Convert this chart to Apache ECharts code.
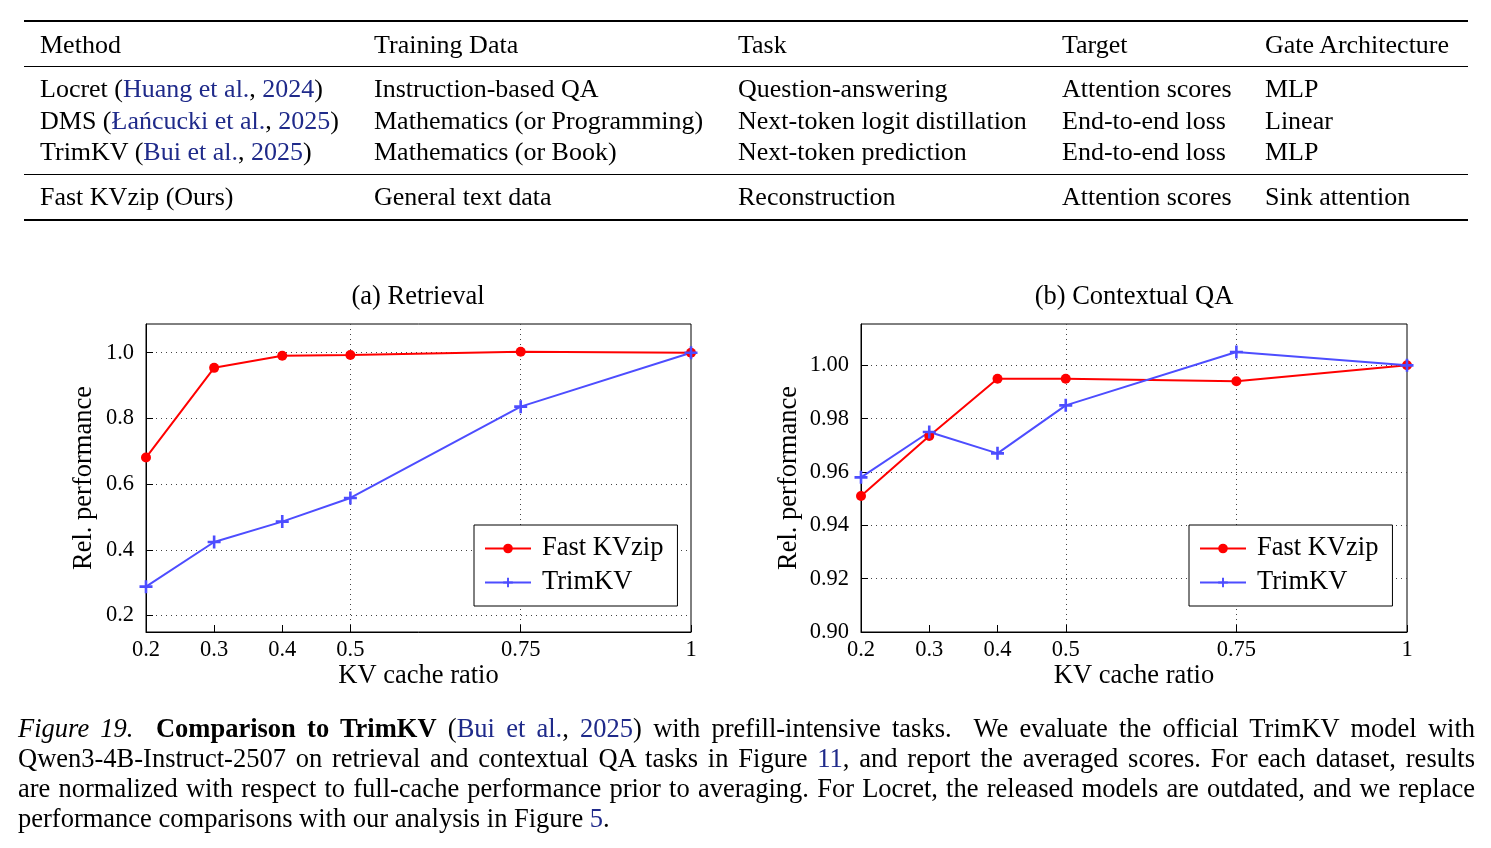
<!DOCTYPE html>
<html>
<head>
<meta charset="utf-8">
<script src="https://cdn.jsdelivr.net/npm/echarts@6.0.0/dist/echarts.min.js"></script>
<style>
  html, body { margin: 0; padding: 0; background: #fff; }
  body { width: 1491px; height: 848px; position: relative; overflow: hidden;
         font-family: "Liberation Serif", "Times New Roman", serif; color: #000; }
  #chart { position: absolute; left: 0; top: 0; width: 1491px; height: 848px; }
  .cell { position: absolute; font-size: 26px; line-height: 30px; white-space: nowrap; }
  .rule { position: absolute; left: 24px; width: 1444px; background: #000; }
  .cap { position: absolute; left: 18px; width: 1457px; font-size: 26.5px; line-height: 30px;
         text-align: justify; text-align-last: justify; white-space: nowrap; }
  .cap.last { text-align-last: left; }
  .cite { color: #1f2a8a; }
</style>
</head>
<body>
<div id="chart"></div>
<div id="table"></div>
<div id="caption"></div>
<script>
// ---- table data ----
var headers = ["Method", "Training Data", "Task", "Target", "Gate Architecture"];
var methods = ["Locret", "DMS", "TrimKV", "Fast KVzip (Ours)"];
var citeNames = ["Huang et al.", "Łańcucki et al.", "Bui et al.", ""];
var citeYears = ["2024", "2025", "2025", ""];
var trainData = ["Instruction-based QA", "Mathematics (or Programming)", "Mathematics (or Book)", "General text data"];
var tasks = ["Question-answering", "Next-token logit distillation", "Next-token prediction", "Reconstruction"];
var targets = ["Attention scores", "End-to-end loss", "End-to-end loss", "Attention scores"];
var gates = ["MLP", "Linear", "MLP", "Sink attention"];

// ---- chart data ----
var ratios = [0.2, 0.3, 0.4, 0.5, 0.75, 1];
var retrievalFast = [0.681, 0.954, 0.991, 0.993, 1.003, 1.0];
var retrievalTrim = [0.288, 0.424, 0.486, 0.558, 0.836, 1.0];
var qaFast = [0.951, 0.9735, 0.995, 0.995, 0.994, 1.0];
var qaTrim = [0.958, 0.975, 0.967, 0.985, 1.005, 1.0];
var retrievalTicks = [0.2, 0.4, 0.6, 0.8, 1.0];
var qaTicks = [0.90, 0.92, 0.94, 0.96, 0.98, 1.00];
var gridTicksX = [0.5, 0.75];

// ---- build table ----
var colX = [40, 374, 738, 1062, 1265];
var rowY = [89, 121, 152, 197];
var tableHtml = "";
function cell(x, yc, html) {
    return '<div class="cell" style="left:' + x + 'px;top:' + (yc - 15) + 'px">' + html + '</div>';
}
tableHtml += '<div class="rule" style="top:20px;height:2px"></div>';
tableHtml += '<div class="rule" style="top:66px;height:1px"></div>';
tableHtml += '<div class="rule" style="top:174px;height:1px"></div>';
tableHtml += '<div class="rule" style="top:219px;height:2px"></div>';
for (var h = 0; h < headers.length; h++) {
    tableHtml += cell(colX[h], 45, headers[h]);
}
for (var r = 0; r < methods.length; r++) {
    var m = methods[r];
    if (citeNames[r] !== "") {
        m += ' (<span class="cite">' + citeNames[r] + '</span>, <span class="cite">' + citeYears[r] + '</span>)';
    }
    tableHtml += cell(colX[0], rowY[r], m);
    tableHtml += cell(colX[1], rowY[r], trainData[r]);
    tableHtml += cell(colX[2], rowY[r], tasks[r]);
    tableHtml += cell(colX[3], rowY[r], targets[r]);
    tableHtml += cell(colX[4], rowY[r], gates[r]);
}
document.getElementById("table").innerHTML = tableHtml;

// ---- caption ----
var capLines = [
    '<i>Figure 19.</i>&nbsp; <b>Comparison to TrimKV</b> (<span class="cite">Bui et al.</span>, <span class="cite">2025</span>) with prefill-intensive tasks.&nbsp; We evaluate the official TrimKV model with',
    'Qwen3-4B-Instruct-2507 on retrieval and contextual QA tasks in Figure <span class="cite">11</span>, and report the averaged scores. For each dataset, results',
    'are normalized with respect to full-cache performance prior to averaging. For Locret, the released models are outdated, and we replace',
    'performance comparisons with our analysis in Figure <span class="cite">5</span>.'
];
var capY = [729, 759, 789, 819];
var capHtml = "";
for (var c = 0; c < capLines.length; c++) {
    capHtml += '<div class="cap' + (c === capLines.length - 1 ? ' last' : '') + '" style="top:' + (capY[c] - 16) + 'px">' + capLines[c] + '</div>';
}
document.getElementById("caption").innerHTML = capHtml;

// ---- charts ----
var font = "Liberation Serif";
var red = "#ff0000";
var blue = "#4d4dff";
var plus = "path://M-1.2,-6 h2.4 v4.8 h4.8 v2.4 h-4.8 v4.8 h-2.4 v-4.8 h-4.8 v-2.4 h4.8 z";

function pairs(xs, ys) {
    return xs.map(function (x, i) { return [x, ys[i]]; });
}

function mainX(gridIndex) {
    return {
        type: "value", gridIndex: gridIndex, min: 0.2, max: 1,
        name: "KV cache ratio", nameLocation: "middle", nameGap: 29,
        nameTextStyle: { fontFamily: font, fontSize: 26.5, color: "#000" },
        axisLine: { lineStyle: { color: "#000", width: 1 } },
        axisTick: { inside: true, length: 7, customValues: ratios, lineStyle: { color: "#000" } },
        axisLabel: {
            customValues: ratios, margin: 7, fontFamily: font, fontSize: 22.5, color: "#000",
            formatter: function (v) { return String(v); }
        },
        splitLine: { show: false }
    };
}
function gridX(gridIndex) {
    return {
        type: "value", gridIndex: gridIndex, min: 0.2, max: 1,
        axisLine: { show: false }, axisLabel: { show: false },
        axisTick: { show: false, customValues: gridTicksX },
        splitLine: { show: true, lineStyle: { color: "#444", type: [1, 4], width: 1 } }
    };
}
function mainY(gridIndex, min, max, ticks, digits, gap) {
    return {
        type: "value", gridIndex: gridIndex, min: min, max: max,
        name: "Rel. performance", nameLocation: "middle", nameGap: gap,
        nameTextStyle: { fontFamily: font, fontSize: 26.5, color: "#000" },
        axisLine: { show: true, lineStyle: { color: "#000", width: 1 } },
        axisTick: { show: true, inside: true, length: 7, customValues: ticks, lineStyle: { color: "#000" } },
        axisLabel: {
            customValues: ticks, margin: 12, fontFamily: font, fontSize: 22.5, color: "#000",
            formatter: function (v) { return v.toFixed(digits); }
        },
        splitLine: { show: true, lineStyle: { color: "#444", type: [1, 4], width: 1 } }
    };
}
function lineSeries(name, xi, yi, data, color, symbol, size) {
    return {
        name: name, type: "line", xAxisIndex: xi, yAxisIndex: yi,
        data: pairs(ratios, data), symbol: symbol, symbolSize: size,
        showAllSymbol: true, animation: false,
        lineStyle: { color: color, width: 2 },
        itemStyle: { color: color }
    };
}
function legend(left) {
    return {
        left: left, top: 525, orient: "vertical",
        data: ["Fast KVzip", "TrimKV"],
        itemWidth: 46, itemHeight: 12, itemGap: 7,
        padding: [10, 14, 10, 10],
        borderColor: "#000", borderWidth: 1, borderRadius: 0,
        backgroundColor: "#fff",
        textStyle: { fontFamily: font, fontSize: 26.5, color: "#000", padding: [0, 0, 0, 6] },
        selectedMode: false
    };
}

var chart = echarts.init(document.getElementById("chart"), null, { renderer: "canvas" });
chart.setOption({
    animation: false,
    title: [
        { text: "(a) Retrieval", left: 418, top: 284, textAlign: "center", padding: 0,
          textStyle: { fontFamily: font, fontSize: 26.5, fontWeight: "normal", color: "#000" } },
        { text: "(b) Contextual QA", left: 1134, top: 284, textAlign: "center", padding: 0,
          textStyle: { fontFamily: font, fontSize: 26.5, fontWeight: "normal", color: "#000" } }
    ],
    legend: [legend(474), legend(1189)],
    grid: [
        { left: 146, top: 324, width: 545, height: 308, show: true, borderColor: "#000", borderWidth: 1, containLabel: false },
        { left: 861, top: 324, width: 546, height: 308, show: true, borderColor: "#000", borderWidth: 1, containLabel: false }
    ],
    xAxis: [mainX(0), gridX(0), mainX(1), gridX(1)],
    yAxis: [
        mainY(0, 0.15, 1.0875, retrievalTicks, 1, 48),
        mainY(1, 0.90, 1.0155, qaTicks, 2, 58)
    ],
    series: [
        lineSeries("Fast KVzip", 0, 0, retrievalFast, red, "circle", 10),
        lineSeries("TrimKV", 0, 0, retrievalTrim, blue, plus, 13),
        lineSeries("Fast KVzip", 2, 1, qaFast, red, "circle", 10),
        lineSeries("TrimKV", 2, 1, qaTrim, blue, plus, 13)
    ]
});
</script>
</body>
</html>
